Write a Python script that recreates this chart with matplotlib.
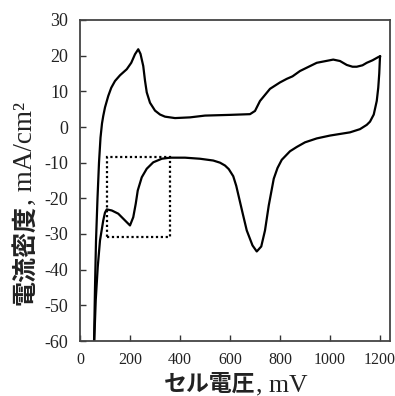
import numpy as np
import matplotlib
matplotlib.use("Agg")
import matplotlib.pyplot as plt
from matplotlib.patches import Rectangle

plt.rcParams["axes.unicode_minus"] = False

# anodic sweep (upper branch), cell voltage in mV, current density in mA/cm2
fwd_v = [55, 60, 64, 70, 76, 82, 88, 93, 100, 113, 125, 140, 160, 187, 205, 220,
         233, 242, 253, 260, 267, 280, 300, 320, 340, 380, 440, 500, 600, 680,
         700, 720, 760, 800, 827, 850, 880, 947, 1013, 1040, 1067, 1090, 1107,
         1130, 1147, 1170, 1193, 1200]
fwd_i = [-65, -45, -32, -20, -10, -3, 1, 3.1, 5.5, 8.7, 11, 12.9, 14.5, 16.2, 18,
         20.4, 21.8, 20.5, 17.1, 13, 9.7, 6.8, 4.6, 3.5, 2.9, 2.5, 2.7, 3.2, 3.4,
         3.6, 4.5, 7.3, 10.7, 12.5, 13.5, 14.2, 15.7, 18, 18.9, 18.5, 17.4, 16.9,
         16.9, 17.3, 18, 18.7, 19.6, 19.8]

# cathodic sweep (return branch)
rev_v = [1200, 1197, 1193, 1187, 1175, 1160, 1147, 1120, 1080, 1000, 947, 900,
         867, 840, 807, 790, 775, 767, 755, 740, 725, 707, 690, 667, 650, 640,
         625, 613, 595, 580, 560, 533, 480, 420, 360, 327, 293, 267, 247, 231,
         223, 213, 200, 180, 153, 127, 107, 100, 93, 80, 71, 63, 57, 55]
rev_i = [19.8, 15, 11, 7.3, 3.5, 1.5, 0.6, -0.6, -1.5, -2.4, -3.2, -4.3, -5.6,
         -6.8, -9.2, -11.5, -14.5, -17.5, -22, -29, -33.5, -34.9, -33.2, -29, -24,
         -21, -16.5, -13.8, -11.8, -10.8, -10, -9.4, -8.9, -8.6, -8.6, -8.9, -9.9,
         -11.7, -14.1, -17.8, -21.5, -25.3, -27.6, -26.2, -24.3, -23.4, -23.1, -24,
         -26.2, -31.8, -39.2, -48.5, -60, -65]

# dotted box around the low-voltage region
box_v = [108, 360]
box_i = [-30.9, -8.5]

W, H = 395, 396
fig = plt.figure(figsize=(W / 100, H / 100), dpi=100)
ax = fig.add_axes([80 / W, 1 - 341 / H, 310 / W, 321 / H])

ax.plot(fwd_v, fwd_i, color="black", lw=1.6, solid_joinstyle="round")
ax.plot(rev_v, rev_i, color="black", lw=1.6, solid_joinstyle="round")
ax.add_patch(Rectangle((box_v[0], box_i[0]), box_v[1] - box_v[0], box_i[1] - box_i[0],
                       fill=False, ls=(0, (1, 1.2)), lw=1.6, ec="black"))

ax.set_xlim(0, 1240)
ax.set_ylim(-60, 30)
ax.set_xticks(range(0, 1201, 200))
ax.set_yticks(range(-60, 31, 10))
ax.tick_params(direction="in", length=4, width=1, colors="#333333", labelcolor="#222222")
ax.tick_params(axis="y", pad=8.5)
ax.tick_params(axis="x", pad=8)
for lab in ax.get_xticklabels():
    lab.set_family("Liberation Serif")
    lab.set_fontsize(11.5)
for lab in ax.get_yticklabels():
    lab.set_family("Liberation Serif")
    lab.set_fontsize(13)
for s in ax.spines.values():
    s.set_linewidth(1.3)
    s.set_color("#444444")


def two_part_label(jp, lat, x0, y0, rot, jp_size, lat_size):
    # Japanese part in gothic, latin part in serif, on one baseline
    kw = dict(transform=None, rotation=rot, rotation_mode="anchor",
              ha="left", va="baseline", color="#222222")
    t1 = fig.text(x0, y0, jp, family="Noto Sans CJK JP", weight="bold",
                  fontsize=jp_size, **kw)
    fig.canvas.draw()
    bb = t1.get_window_extent()
    if rot == 90:
        x1, y1 = x0, y0 + bb.height
    else:
        x1, y1 = x0 + bb.width, y0
    fig.text(x1, y1, lat, family="Liberation Serif", fontsize=lat_size, **kw)


# pixel positions (origin bottom-left for transform=None)
two_part_label("セル電圧", ", mV", 164, H - 391, 0, 16.5, 18.5)
two_part_label("電流密度", ", mA/cm²", 32, H - 305, 90, 18, 19.5)

fig.savefig("out.png", dpi=100)
